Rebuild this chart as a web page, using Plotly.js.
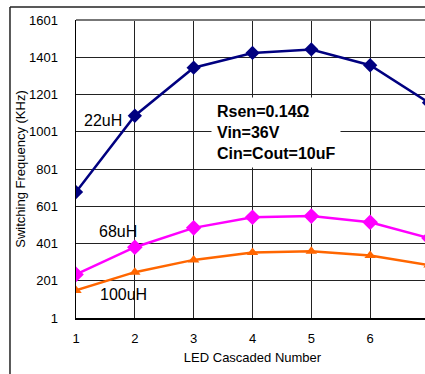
<!DOCTYPE html>
<html>
<head>
<meta charset="utf-8">
<script src="https://cdn.plot.ly/plotly-3.0.1.min.js"></script>
<style>
html, body { margin:0; padding:0; overflow:hidden; background:#fff; width:425px; height:374px; }
#chart { width:440px; height:374px; }
</style>
</head>
<body>
<div id="chart"></div>
<script>
const ledCount = [1, 2, 3, 4, 5, 6, 7];
const freq22uH = [677, 1087, 1345, 1424, 1443, 1358, 1157];
const freq68uH = [235, 381, 485, 542, 548, 515, 430];
const freq100uH = [149, 247, 313, 353, 360, 337, 285];
const yTicks = [1, 201, 401, 601, 801, 1001, 1201, 1401, 1601];
const xTicks = [1, 2, 3, 4, 5, 6];
const seriesNames = ['22uH', '68uH', '100uH'];
const noteText = 'Rsen=0.14Ω<br>Vin=36V<br>Cin=Cout=10uF';

const FONT = 'Liberation Sans, Arial, sans-serif';

const traces = [
  {x: ledCount, y: freq22uH, name: seriesNames[0], mode: 'lines+markers',
   line: {color: '#000080', width: 2.5}, marker: {symbol: 'diamond', size: 11, color: '#000080'}},
  {x: ledCount, y: freq68uH, name: seriesNames[1], mode: 'lines+markers',
   line: {color: '#ff00ff', width: 2.5}, marker: {symbol: 'diamond', size: 12, color: '#ff00ff'}},
  {x: ledCount, y: freq100uH, name: seriesNames[2], mode: 'lines+markers',
   line: {color: '#ff6600', width: 2.5}, marker: {symbol: 'triangle-up', size: 10, color: '#ff6600'}}
];

const layout = {
  width: 440, height: 374,
  margin: {l: 76, r: 11, t: 20, b: 56},
  paper_bgcolor: '#fff', plot_bgcolor: '#fff',
  showlegend: false,
  font: {family: FONT, color: '#000', size: 13},
  xaxis: {
    range: [1, 7], tickvals: xTicks, ticktext: xTicks.map(String),
    showgrid: true, gridcolor: '#222', gridwidth: 1,
    showline: true, linecolor: '#000', linewidth: 1.5,
    zeroline: false, ticks: '', ticklabelstandoff: 8,
    tickfont: {size: 13, family: FONT},
    title: {text: 'LED Cascaded Number', font: {size: 13, family: FONT}, standoff: 8}
  },
  yaxis: {
    range: [1, 1601], tickvals: yTicks, ticktext: yTicks.map(String),
    showgrid: true, gridcolor: '#222', gridwidth: 1,
    showline: true, linecolor: '#000', linewidth: 1.5,
    zeroline: false, ticks: '', ticklabelstandoff: 14,
    tickfont: {size: 13, family: FONT},
    title: {text: 'Switching Frequency (KHz)', font: {size: 13, family: FONT}, standoff: 0}
  },
  shapes: [
    {type: 'line', xref: 'paper', yref: 'paper', x0: -0.187, x1: 1.2, y0: 1.0436, y1: 1.0436,
     line: {color: '#222', width: 1.5}},
    {type: 'line', xref: 'paper', yref: 'paper', x0: -0.187, x1: -0.187, y0: 1.0436, y1: -0.3,
     line: {color: '#222', width: 1.5}},
    {type: 'line', xref: 'paper', yref: 'paper', x0: 0, x1: 1.2, y0: 1, y1: 1,
     line: {color: '#777', width: 2}}
  ],
  annotations: [
    {x: 1.102, y: 1059, xref: 'x', yref: 'y', text: seriesNames[0], showarrow: false,
     xanchor: 'left', yanchor: 'middle', font: {size: 16, family: FONT, color: '#000'}},
    {x: 1.357, y: 463, xref: 'x', yref: 'y', text: seriesNames[1], showarrow: false,
     xanchor: 'left', yanchor: 'middle', font: {size: 16, family: FONT, color: '#000'}},
    {x: 1.374, y: 125, xref: 'x', yref: 'y', text: seriesNames[2], showarrow: false,
     xanchor: 'left', yanchor: 'middle', font: {size: 16, family: FONT, color: '#000'}},
    {x: 3.295, y: 1188, xref: 'x', yref: 'y', text: '<b>' + noteText + '</b>', showarrow: false,
     xanchor: 'left', yanchor: 'top', align: 'left', bgcolor: '#fff', borderpad: 5,
     font: {size: 16, family: FONT, color: '#000'}}
  ]
};

Plotly.newPlot('chart', traces, layout, {displayModeBar: false, staticPlot: true});
</script>
</body>
</html>
